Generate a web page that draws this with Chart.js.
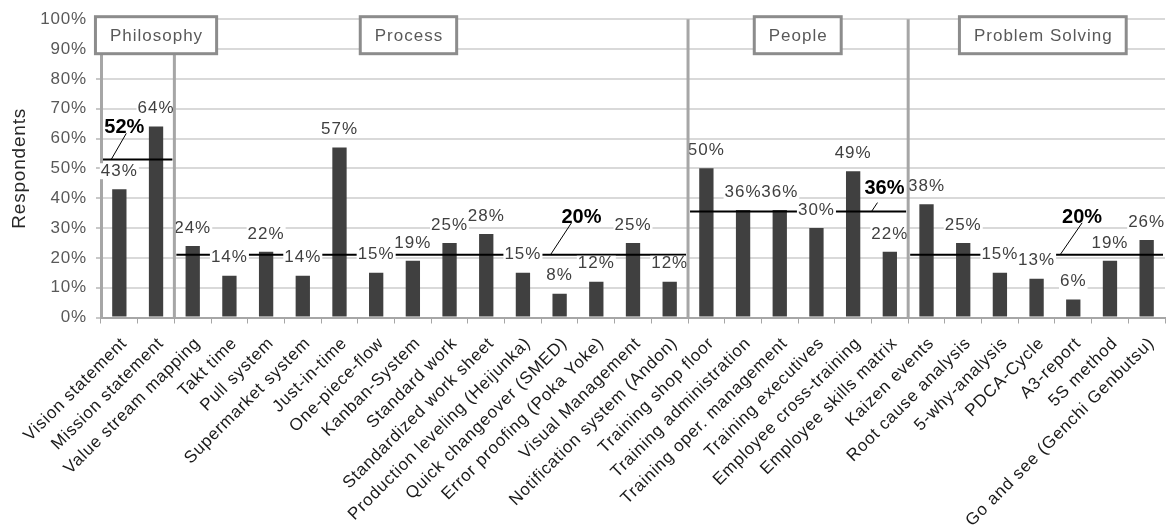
<!DOCTYPE html>
<html>
<head>
<meta charset="utf-8">
<script src="https://cdn.jsdelivr.net/npm/chart.js@4.4.0/dist/chart.umd.min.js"></script>
<style>
  html, body { margin: 0; padding: 0; background: #fff; }
  #wrap { width: 1167px; height: 527px; }
</style>
</head>
<body>
<div id="wrap"><canvas id="chart" width="1167" height="527"></canvas></div>
<script>
// Lean practices in use, share of respondents (%)
const categories = [
  'Vision statement', 'Mission statement',
  'Value stream mapping', 'Takt time', 'Pull system', 'Supermarket system', 'Just-in-time',
  'One-piece-flow', 'Kanban-System', 'Standard work', 'Standardized work sheet',
  'Production leveling (Heijunka)', 'Quick changeover (SMED)', 'Error proofing (Poka Yoke)',
  'Visual Management', 'Notification system (Andon)',
  'Training shop floor', 'Training administration', 'Training oper. management',
  'Training executives', 'Employee cross-training', 'Employee skills matrix',
  'Kaizen events', 'Root cause analysis', '5-why-analysis', 'PDCA-Cycle', 'A3-report',
  '5S method', 'Go and see (Genchi Genbutsu)'
];
const values = [
  43, 64,
  24, 14, 22, 14, 57, 15, 19, 25, 28, 15, 8, 12, 25, 12,
  50, 36, 36, 30, 49, 22,
  38, 25, 15, 13, 6, 19, 26
];
const groupNames = ['Philosophy', 'Process', 'People', 'Problem Solving'];
const groupSizes = [2, 14, 6, 7];
const groupAverages = [53, 21, 35.5, 21];
const groupAverageLabels = ['52%', '20%', '36%', '20%'];

const FONT = '"Liberation Sans", Arial, sans-serif';

/**
 * Draws the group averages, value labels, separators and group boxes
 */
const overlayPlugin = {
  id: 'overlay',
  beforeDraw(chart) {
    chart.ctx.letterSpacing = '0.8px';
  },
  afterDatasetsDraw(chart, args, opts) {
    const { ctx, chartArea: area, scales: { x, y } } = chart;
    const step = x.getPixelForValue(1) - x.getPixelForValue(0);
    const edge = i => x.getPixelForValue(i) - step / 2;

    // start/end category of each group
    let start = 0;
    const bounds = groupSizes.map(n => {
      const b = [start, start + n];
      start += n;
      return b;
    });

    ctx.save();

    // average line per group
    ctx.strokeStyle = '#000';
    ctx.lineWidth = 2;
    bounds.forEach(([a, b], g) => {
      const yy = y.getPixelForValue(groupAverages[g]);
      ctx.beginPath();
      ctx.moveTo(edge(a) + 2, yy);
      ctx.lineTo(edge(b) - 2, yy);
      ctx.stroke();
    });

    // value labels with white background
    ctx.letterSpacing = '1px';
    ctx.font = '17px ' + FONT;
    ctx.textAlign = 'center';
    ctx.textBaseline = 'middle';
    values.forEach((v, i) => {
      const cx = x.getPixelForValue(i);
      const cy = y.getPixelForValue(v) - 18;
      const text = v + '%';
      const w = ctx.measureText(text).width;
      ctx.fillStyle = '#fff';
      ctx.fillRect(cx - w / 2 - 1, cy - 8, w + 2, 16);
      ctx.fillStyle = '#404040';
      ctx.fillText(text, cx, cy);
    });

    // callouts for the averages
    ctx.font = 'bold 20px ' + FONT;
    ctx.letterSpacing = '0px';
    ctx.textBaseline = 'alphabetic';
    opts.callouts.forEach((c, g) => {
      const bx = x.getPixelForValue(c.at);
      const by = y.getPixelForValue(groupAverages[g]);
      const ex = bx + c.dx, ey = by + c.dy;
      ctx.strokeStyle = '#000';
      ctx.lineWidth = 1;
      ctx.beginPath();
      ctx.moveTo(bx, by);
      ctx.lineTo(ex, ey);
      ctx.stroke();
      ctx.fillStyle = '#000';
      ctx.fillText(groupAverageLabels[g], ex + c.tx, ey + c.ty);
    });

    // group separators
    ctx.strokeStyle = '#a6a6a6';
    ctx.lineWidth = 3;
    bounds.slice(1).forEach(([a]) => {
      const xx = edge(a);
      ctx.beginPath();
      ctx.moveTo(xx, area.top);
      ctx.lineTo(xx, area.bottom);
      ctx.stroke();
    });

    // group boxes
    ctx.font = '17px ' + FONT;
    ctx.letterSpacing = '1px';
    ctx.textAlign = 'center';
    ctx.textBaseline = 'middle';
    groupNames.forEach((name, g) => {
      const cx = x.getPixelForValue(opts.boxes[g]);
      const w = ctx.measureText(name).width + 28;
      const top = area.top - 2.5;
      const h = 37;
      ctx.fillStyle = '#fff';
      ctx.fillRect(cx - w / 2, top, w, h);
      ctx.strokeStyle = '#8c8c8c';
      ctx.lineWidth = 3;
      ctx.strokeRect(cx - w / 2, top, w, h);
      ctx.fillStyle = '#595959';
      ctx.fillText(name, cx + 0.5, top + h / 2 + 1);
    });

    ctx.restore();
  }
};

new Chart(document.getElementById('chart'), {
  type: 'bar',
  data: {
    labels: categories,
    datasets: [{
      data: values,
      backgroundColor: '#404040',
      barPercentage: 0.39,
      categoryPercentage: 1
    }]
  },
  options: {
    responsive: false,
    animation: false,
    devicePixelRatio: 1,
    layout: { padding: { top: 17, right: 2, left: 0, bottom: 0 } },
    plugins: {
      legend: { display: false },
      tooltip: { enabled: false },
      overlay: {
        callouts: [
          { at: -0.22, dx: 15, dy: -26, tx: -2, ty: 0 },
          { at: 11.75, dx: 21, dy: -32, tx: 10, ty: 0 },
          { at: 20.5, dx: 6, dy: -9, tx: 7, ty: -9 },
          { at: 25.64, dx: 22, dy: -32, tx: 0, ty: 0 }
        ],
        boxes: [1.0, 7.88, 18.49, 25.17]
      }
    },
    scales: {
      x: {
        grid: {
          offset: true,
          drawOnChartArea: false,
          tickLength: 6,
          color: '#a6a6a6'
        },
        border: { color: '#a6a6a6', width: 2 },
        ticks: {
          autoSkip: false,
          maxRotation: 45,
          minRotation: 45,
          padding: 10,
          labelOffset: 5,
          color: '#1a1a1a',
          font: { family: FONT, size: 17 }
        },
        afterFit(scale) {
          scale.height = 209.5;
          scale.paddingLeft = 0;
          scale.paddingRight = 0;
        }
      },
      y: {
        min: 0,
        max: 100,
        ticks: {
          stepSize: 10,
          padding: 9,
          color: '#595959',
          font: { family: FONT, size: 17 },
          callback: value => value + '%'
        },
        grid: {
          color: '#d9d9d9',
          lineWidth: 2,
          tickLength: 5,
          tickColor: '#c8c8c8'
        },
        border: { color: '#a6a6a6', width: 3 },
        title: {
          display: true,
          text: 'Respondents',
          color: '#262626',
          font: { family: FONT, size: 19 },
          padding: { top: 8, bottom: 0 }
        },
        afterFit(scale) {
          scale.width = 101;
        }
      }
    }
  },
  plugins: [overlayPlugin]
});
</script>
</body>
</html>
